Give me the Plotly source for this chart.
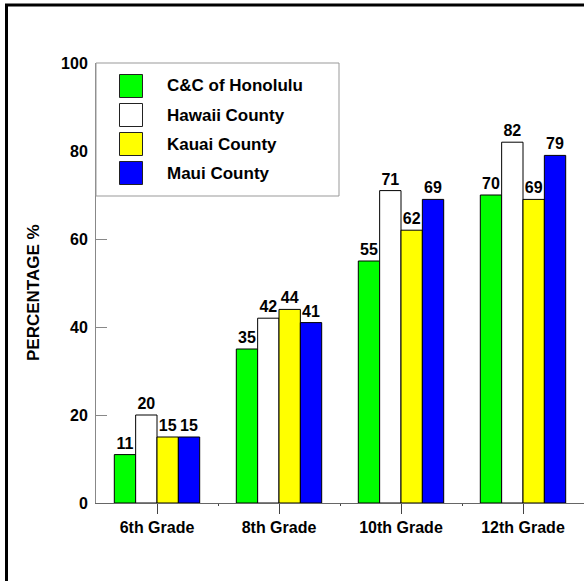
import plotly.graph_objects as go

# Survey results by grade level and county (percent)
grades = ["6th Grade", "8th Grade", "10th Grade", "12th Grade"]
series_names = ["C&C of Honolulu", "Hawaii County", "Kauai County", "Maui County"]
honolulu = [11, 35, 55, 70]
hawaii = [20, 42, 71, 82]
kauai = [15, 44, 62, 69]
maui = [15, 41, 69, 79]
colors = ["#00ff00", "#ffffff", "#ffff00", "#0000ff"]
y_ticks = [0, 20, 40, 60, 80, 100]

FONT = "Liberation Sans, Arial, sans-serif"
W, H = 584, 581
ML, MR, MT, MB = 96, 0, 63, 78
PW, PH = W - ML - MR, H - MT - MB


def px_x(x):
    return (x - ML) / PW


def px_y(y):
    return (H - MB - y) / PH


xpos = list(range(len(grades)))
fig = go.Figure()
for name, vals, col in zip(series_names, [honolulu, hawaii, kauai, maui], colors):
    fig.add_trace(go.Bar(
        x=xpos, y=vals, name=name,
        marker=dict(color=col, line=dict(color="#000000", width=1)),
        text=vals, texttemplate="<b>%{text}</b>", textposition="outside",
        textfont=dict(family=FONT, size=16, color="#000000"),
        cliponaxis=False, showlegend=False,
    ))

shapes = []
annotations = []

# Outer frame
shapes.append(dict(type="rect", xref="paper", yref="paper",
                   x0=px_x(6.5), x1=px_x(W + 20), y0=px_y(5), y1=px_y(H + 20),
                   line=dict(color="#000000", width=3), fillcolor="rgba(0,0,0,0)",
                   layer="above"))

# Legend box
shapes.append(dict(type="rect", xref="paper", yref="paper",
                   x0=px_x(96), x1=px_x(339), y0=px_y(63), y1=px_y(196),
                   line=dict(color="#999999", width=1), fillcolor="#ffffff",
                   layer="above"))
row_centers = [86, 115, 144, 173]
for name, col, cy in zip(series_names, colors, row_centers):
    shapes.append(dict(type="rect", xref="paper", yref="paper",
                       x0=px_x(119.5), x1=px_x(142.5), y0=px_y(cy - 11.5), y1=px_y(cy + 11.5),
                       line=dict(color="#222222", width=1), fillcolor=col, layer="above"))
    annotations.append(dict(text=f"<b>{name}</b>", xref="paper", yref="paper",
                            x=px_x(165), y=px_y(cy), xanchor="left", yanchor="middle",
                            showarrow=False, font=dict(family=FONT, size=17, color="#000000")))

# Y axis title
annotations.append(dict(text="<b>PERCENTAGE %</b>", xref="paper", yref="paper",
                        x=px_x(33), y=px_y(293), xanchor="center", yanchor="middle",
                        textangle=-90, showarrow=False,
                        font=dict(family=FONT, size=17, color="#000000")))

fig.update_layout(
    width=W, height=H,
    margin=dict(l=ML, r=MR, t=MT, b=MB, pad=0),
    paper_bgcolor="#ffffff", plot_bgcolor="#ffffff",
    barmode="group", bargap=0.30, bargroupgap=0,
    shapes=shapes, annotations=annotations,
    showlegend=False,
    font=dict(family=FONT, size=16, color="#000000"),
)
fig.update_xaxes(
    range=[-0.5, len(grades) - 0.5], tickvals=xpos,
    ticktext=[f"<b>{g}</b>" for g in grades],
    showgrid=False, zeroline=False, showline=True, linecolor="#666666", linewidth=1,
    ticks="outside", ticklen=10, tickcolor="#444444", tickwidth=1,
    minor=dict(tickvals=[i + 0.5 for i in xpos[:-1]], ticks="outside", ticklen=2,
               tickcolor="#444444"),
    tickfont=dict(family=FONT, size=16, color="#000000"),
    fixedrange=True,
)
fig.update_yaxes(
    range=[0, 100], tickvals=y_ticks, ticktext=[f"<b>{v}</b>" for v in y_ticks],
    showgrid=False, zeroline=False, showline=True, linecolor="#888888", linewidth=1,
    ticks="inside", ticklen=11, tickcolor="#888888", tickwidth=1,
    tickfont=dict(family=FONT, size=16, color="#000000"),
    ticklabelstandoff=4,
    fixedrange=True,
)

fig.write_html("out.html")
